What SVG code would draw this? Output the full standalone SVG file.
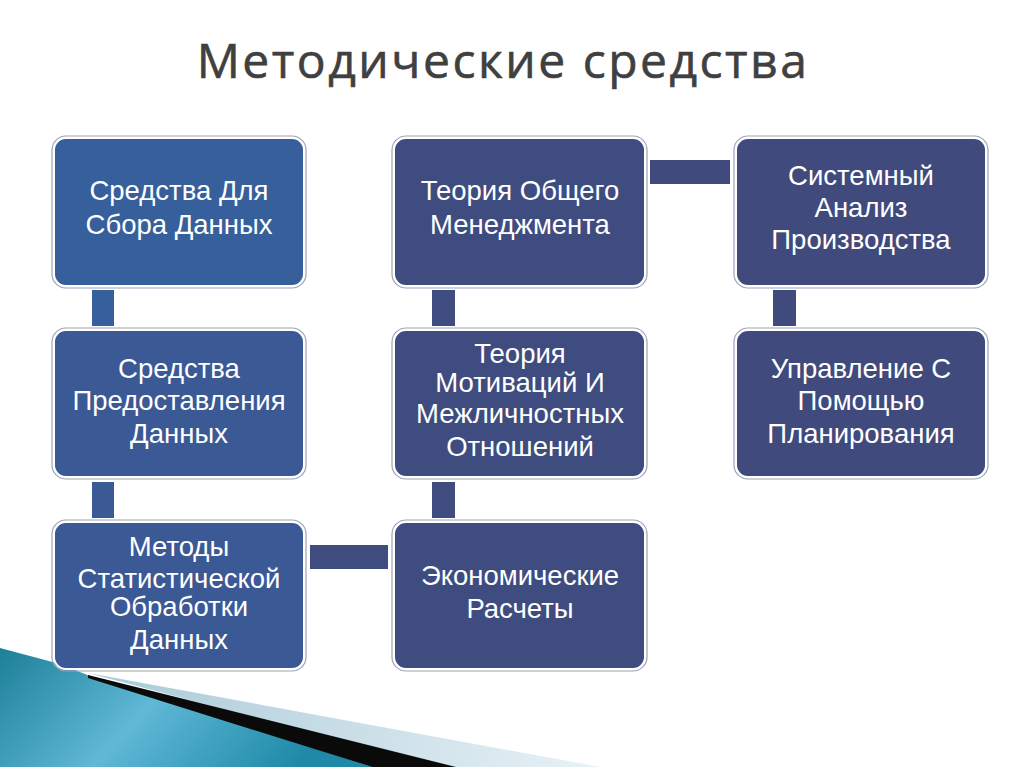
<svg xmlns="http://www.w3.org/2000/svg" width="1024" height="767" viewBox="0 0 1024 767">
<defs>
<linearGradient id="teal" x1="0" y1="0" x2="1" y2="0.3">
<stop offset="0" stop-color="#1d7f98"/>
<stop offset="0.5" stop-color="#5fb8d6"/>
<stop offset="1" stop-color="#1f8aa8"/>
</linearGradient>
<linearGradient id="faint" x1="0" y1="0" x2="1" y2="0">
<stop offset="0" stop-color="#a9c9d8"/>
<stop offset="1" stop-color="#e8f2f6"/>
</linearGradient>
<style>
.box{stroke:#ffffff;stroke-width:2}
.outer{fill:none;stroke:#9aa3b8;stroke-width:1.2}
.t{font-family:"Liberation Sans",Arial,sans-serif;font-size:27.5px;fill:#ffffff;text-anchor:middle}
.c1{fill:#375f9c}
.c1b{fill:#3a5995}
.c2{fill:#3f4c80}
.c3{fill:#404a7c}
</style>
</defs>
<rect width="1024" height="767" fill="#ffffff"/>
<!-- bottom-left decoration -->
<polygon points="88,673 600,767 440,767" fill="url(#faint)"/>
<polygon points="0,648 60,664 90,676 372,767 0,767" fill="url(#teal)"/>
<polygon points="88,675 456,767 372,767 88,678" fill="#0a0a0a"/>
<text x="503" y="78" font-family="'Open Sans','DejaVu Sans',sans-serif" font-size="48" fill="#404040" stroke="#404040" stroke-width="0.6" text-anchor="middle" letter-spacing="2.5">Методические средства</text>
<g id="connectors">
<rect x="92" y="290" width="22" height="36" class="c1"/>
<rect x="92" y="482" width="22" height="36" class="c1b"/>
<rect x="432" y="290" width="23" height="36" class="c2"/>
<rect x="432" y="482" width="23" height="36" class="c2"/>
<rect x="773" y="290" width="23" height="36" class="c3"/>
<rect x="650" y="160" width="80" height="24" class="c3"/>
<rect x="310" y="545" width="78" height="24" class="c2"/>
</g>
<g id="n1">
<rect x="52" y="136" width="254" height="152" rx="14" class="outer"/>
<rect x="54" y="138" width="250" height="148" rx="12" class="box c1"/>
<text class="t" x="179" y="200">Средства Для</text>
<text class="t" x="179" y="234">Сбора Данных</text>
</g>
<g id="n2">
<rect x="52" y="328" width="254" height="151" rx="14" class="outer"/>
<rect x="54" y="330" width="250" height="147" rx="12" class="box c1b"/>
<text class="t" x="179" y="378">Средства</text>
<text class="t" x="179" y="410">Предоставления</text>
<text class="t" x="179" y="443">Данных</text>
</g>
<g id="n3">
<rect x="52" y="520" width="254" height="151" rx="14" class="outer"/>
<rect x="54" y="522" width="250" height="147" rx="12" class="box c1b"/>
<text class="t" x="179" y="556">Методы</text>
<text class="t" x="179" y="588">Статистической</text>
<text class="t" x="179" y="616">Обработки</text>
<text class="t" x="179" y="649">Данных</text>
</g>
<g id="n4">
<rect x="392" y="136" width="255" height="152" rx="14" class="outer"/>
<rect x="394" y="138" width="251" height="148" rx="12" class="box c2"/>
<text class="t" x="520" y="200">Теория Общего</text>
<text class="t" x="520" y="234">Менеджмента</text>
</g>
<g id="n5">
<rect x="392" y="328" width="255" height="151" rx="14" class="outer"/>
<rect x="394" y="330" width="251" height="147" rx="12" class="box c2"/>
<text class="t" x="520" y="363">Теория</text>
<text class="t" x="520" y="392">Мотиваций И</text>
<text class="t" x="520" y="423">Межличностных</text>
<text class="t" x="520" y="456">Отношений</text>
</g>
<g id="n6">
<rect x="392" y="520" width="255" height="151" rx="14" class="outer"/>
<rect x="394" y="522" width="251" height="147" rx="12" class="box c2"/>
<text class="t" x="520" y="585">Экономические</text>
<text class="t" x="520" y="618">Расчеты</text>
</g>
<g id="n7">
<rect x="734" y="136" width="254" height="152" rx="14" class="outer"/>
<rect x="736" y="138" width="250" height="148" rx="12" class="box c3"/>
<text class="t" x="861" y="185">Системный</text>
<text class="t" x="861" y="217">Анализ</text>
<text class="t" x="861" y="249">Производства</text>
</g>
<g id="n8">
<rect x="734" y="328" width="254" height="151" rx="14" class="outer"/>
<rect x="736" y="330" width="250" height="147" rx="12" class="box c3"/>
<text class="t" x="861" y="378">Управление С</text>
<text class="t" x="861" y="410">Помощью</text>
<text class="t" x="861" y="443">Планирования</text>
</g>
</svg>
